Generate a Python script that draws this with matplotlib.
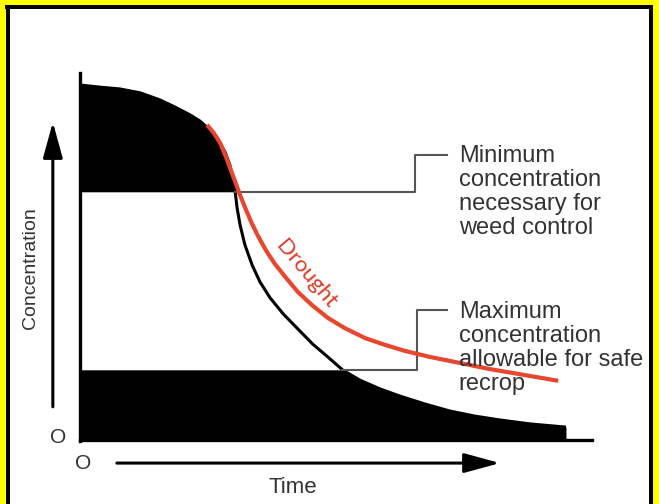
import matplotlib.pyplot as plt
import numpy as np
from matplotlib.patches import Rectangle

plt.rcParams['font.family'] = ['Liberation Sans', 'DejaVu Sans']

# herbicide concentration in soil over time (schematic, 0-100 scales)
time = [0.0, 4.1, 8.2, 12.4, 16.5, 19.6, 22.7, 24.7, 26.8, 28.5, 29.9, 30.9, 31.5, 32.0,
        32.4, 33.0, 34.0, 35.5, 37.1, 39.2, 41.9, 44.9, 48.0, 51.1, 54.2, 57.7, 61.9,
        66.0, 71.1, 76.3, 81.4, 86.6, 92.8, 100.2]
conc = [100.0, 99.4, 98.9, 97.8, 95.8, 93.8, 91.6, 89.9, 87.4, 84.6, 81.2, 77.5, 73.9, 69.9,
        65.4, 60.7, 55.1, 49.4, 44.7, 40.2, 35.7, 31.5, 27.2, 23.6, 19.9, 17.1, 14.6,
        12.6, 10.4, 8.4, 7.0, 5.9, 4.8, 3.9]

# drought curve
time_dry = [26.2, 27.6, 28.9, 30.1, 31.1, 32.0, 33.0, 34.0, 35.3, 36.7, 38.4, 40.2, 42.5,
            44.9, 47.8, 51.1, 54.6, 58.8, 62.9, 67.0, 72.2, 78.4, 84.5, 91.8, 98.6]
conc_dry = [88.8, 86.5, 83.7, 79.8, 76.1, 72.8, 69.1, 65.7, 61.5, 57.6, 53.4, 49.7, 45.8,
            41.9, 38.2, 34.6, 31.7, 28.9, 27.0, 25.3, 23.6, 21.9, 20.2, 18.5, 16.9]

weed_min = 70      # minimum concentration for weed control
recrop_max = 20    # maximum concentration allowable for safe recrop

t = np.array(time)
c = np.array(conc)

fig = plt.figure(figsize=(6.59, 5.04), dpi=100)
fig.patch.set_facecolor('white')
ax = fig.add_axes([0, 0, 1, 1])
ax.set_xlim(-80 / 4.85, 579 / 4.85)
ax.set_ylim(-63 / 3.56, 441 / 3.56)
ax.axis('off')

# frame: yellow strip + black line
W, H = 659, 504
def fr(x0, y0, x1, y1, col):
    fig.add_artist(Rectangle((x0 / W, 1 - y1 / H), (x1 - x0) / W, (y1 - y0) / H,
                             transform=fig.transFigure, facecolor=col, edgecolor='none',
                             zorder=0))
fr(0, 0, W, 5, 'yellow')
fr(0, 0, 6, H, 'yellow')
fr(653, 0, W, H, 'yellow')
fr(5, 5, W - 6, 9, 'black')
fr(6, 5, 10, H, 'black')
fr(649, 5, 653, H, 'black')

# black area under curve, white band between thresholds
ax.fill_between(t, 0, c, color='black', lw=0, zorder=2)
ax.fill_between(t, recrop_max, np.minimum(c, weed_min), where=c > recrop_max,
                interpolate=True, color='white', lw=0, zorder=3)
ax.plot(t, c, color='black', lw=2.2, zorder=4, solid_capstyle='butt', solid_joinstyle='round')
ax.plot([0, 0], [0, 103.4], color='black', lw=2.4, zorder=4)
ax.plot([0, 105.5], [0.3, 0.3], color='black', lw=2.4, zorder=4)

# drought curve
ax.plot(time_dry, conc_dry, color='#e8462e', lw=3.0, zorder=5, solid_capstyle='butt',
        solid_joinstyle='round')
ax.text(46.6, 46.8, 'Drought', color='#d93a25', fontsize=16, family=['Lato', 'DejaVu Sans'],
        rotation=-50, ha='center', va='center', rotation_mode='anchor', zorder=6)

# leader lines to the labels
t_hi = np.interp(-weed_min, -c, t)
t_lo = np.interp(-recrop_max, -c, t)
lc = '#555555'
ax.plot([t_hi, 69.1, 69.1, 75.7], [weed_min, weed_min, 80.3, 80.3], color=lc, lw=1.5, zorder=4)
ax.plot([t_lo, 69.5, 69.5, 75.7], [recrop_max, recrop_max, 36.8, 36.8], color=lc, lw=1.5, zorder=4)

tc = '#333333'
ax.text(78.1, 83.2, 'Minimum\nconcentration\nnecessary for\nweed control', color=tc,
        fontsize=17, va='top', ha='left', linespacing=1.12, zorder=6)
ax.text(78.1, 39.3, 'Maximum\nconcentration\nallowable for safe\nrecrop', color=tc,
        fontsize=17, va='top', ha='left', linespacing=1.12, zorder=6)

# axis arrows and labels
ax.annotate('', xy=(-5.6, 89.6), xytext=(-5.6, 9.6),
            arrowprops=dict(arrowstyle='-|>,head_length=2.2,head_width=0.6', color='black',
                            lw=2.2, mutation_scale=10, shrinkA=0, shrinkB=0))
ax.annotate('', xy=(86.6, -6.2), xytext=(7.6, -6.2),
            arrowprops=dict(arrowstyle='-|>,head_length=2.2,head_width=0.6', color='black',
                            lw=2.2, mutation_scale=10, shrinkA=0, shrinkB=0))
ax.text(-10.3, 48.6, 'Concentration', rotation=90, fontsize=14, color=tc,
        ha='center', va='center')
ax.text(43.9, -13.2, 'Time', fontsize=16, color=tc, ha='center', va='center')
ax.text(-4.5, 1.1, 'O', fontsize=15, color=tc, ha='center', va='center')
ax.text(0.6, -6.2, 'O', fontsize=15, color=tc, ha='center', va='center')

fig.savefig('out.png', dpi=100)
